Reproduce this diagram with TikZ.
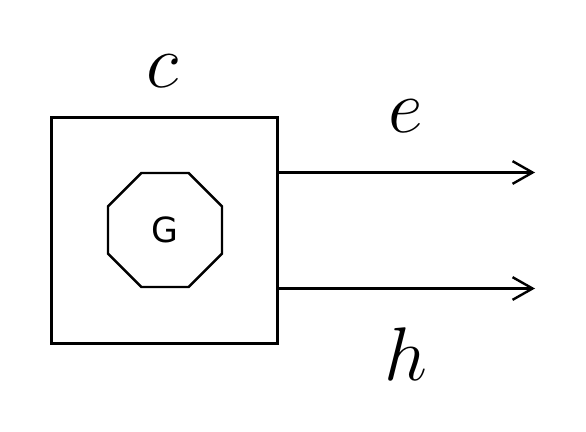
\documentclass[tikz,border=0pt]{standalone}
\usepackage{fix-cm}
\usepackage{fontspec}
\newfontfamily\gfont{DejaVu Sans}
\usetikzlibrary{positioning,shapes,arrows.meta}

\tikzset{
	lbl/.style={font=\fontsize{57}{60}\selectfont, inner sep=0pt, anchor=base},
	line/.style={line width=1.8pt}
}

\begin{document}
\begin{tikzpicture}[x=0.75pt, y=-0.75pt]
				\useasboundingbox (0,0) rectangle (586,432);
				\node[draw, line, minimum size=169.5pt, inner sep=0pt] (C1) at (164.5,230.5) {};
				\node[regular polygon, regular polygon sides=8, draw, line, minimum size=92.5pt, inner sep=0pt, font=\gfont\fontsize{26}{28}\selectfont] (G1) at (165,230) {G};
				\node[lbl] (c1) at (163,87) {$c$};
				\node[lbl] (e1) at (406,132) {$e$};
				\node[lbl] (h1) at (406,380) {$h$};
				\coordinate (E1) at (535,172.5);
				\coordinate (H1) at (535,288.5);
				\draw[-{Straight Barb[length=15pt, width=17pt]}, line] (C1.east |- E1) -- (E1);
				\draw[-{Straight Barb[length=15pt, width=17pt]}, line] (C1.east |- H1) -- (H1);
			\end{tikzpicture}
\end{document}
